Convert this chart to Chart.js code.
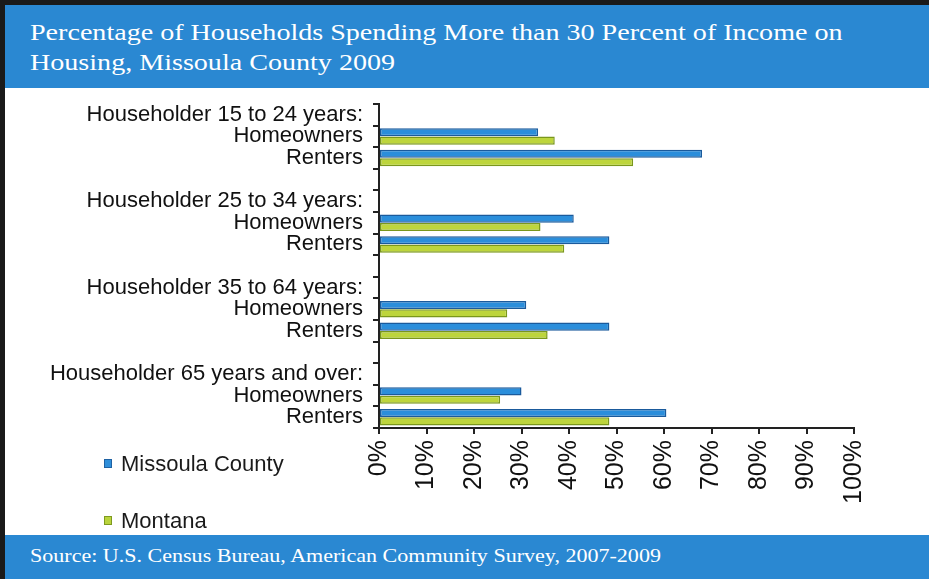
<!DOCTYPE html>
<html>
<head>
<meta charset="utf-8">
<script src="https://cdn.jsdelivr.net/npm/chart.js@4.4.1/dist/chart.umd.min.js"></script>
<style>
  html, body { margin:0; padding:0; width:929px; height:579px; overflow:hidden; background:#fff; }
  #frameTop { position:absolute; left:0; top:0; width:929px; height:5px; background:#1a1a1a; }
  #frameLeft { position:absolute; left:0; top:0; width:5px; height:579px; background:#1a1a1a; }
  #header { position:absolute; left:5px; top:5px; width:924px; height:83px; background:#2a88d2; }
  #title { position:absolute; left:30px; top:17px; color:#fff; font-family:"Liberation Serif", serif; font-size:24px; line-height:30px; white-space:nowrap; transform:scaleX(1.17); transform-origin:0 0; }
  #footer { position:absolute; left:5px; top:535px; width:924px; height:44px; background:#2a88d2; }
  #source { position:absolute; left:30px; top:545px; color:#fff; font-family:"Liberation Serif", serif; font-size:19px; line-height:22px; white-space:nowrap; transform:scaleX(1.16); transform-origin:0 0; }
  #wrap { position:absolute; left:0; top:0; width:929px; height:579px; }
  .leg { position:absolute; left:104px; font-family:"Liberation Sans", Arial, sans-serif; font-size:22px; color:#1a1a1a; white-space:nowrap; }
  .leg span.sw { display:inline-block; width:6px; height:7px; margin-right:9px; vertical-align:3px; }
</style>
</head>
<body>
<div id="frameTop"></div>
<div id="frameLeft"></div>
<div id="header"></div>
<div id="title">Percentage of Households Spending More than 30 Percent of Income on<br>Housing, Missoula County 2009</div>
<div id="footer"></div>
<div id="source">Source: U.S. Census Bureau, American Community Survey, 2007-2009</div>
<div id="wrap"><canvas id="c" width="929" height="579"></canvas></div>
<div class="leg" style="top:451px;"><span class="sw" style="background:#2f8fda;border:1px solid #1f62a3;"></span>Missoula County</div>
<div class="leg" style="top:508px;"><span class="sw" style="background:#b9d33c;border:1px solid #7e9a20;"></span>Montana</div>
<script>
const categories = [
  "Householder 15 to 24 years:", "Homeowners", "Renters", "",
  "Householder 25 to 34 years:", "Homeowners", "Renters", "",
  "Householder 35 to 64 years:", "Homeowners", "Renters", "",
  "Householder 65 years and over:", "Homeowners", "Renters"
];
const missoulaValues = [null, 33.5, 68, null, null, 41, 48.5, null, null, 31, 48.5, null, null, 30, 60.5];
const montanaValues  = [null, 37, 53.5, null, null, 34, 39, null, null, 27, 35.5, null, null, 25.5, 48.5];
const seriesNames = ["Missoula County", "Montana"];
const xTicks = [0, 10, 20, 30, 40, 50, 60, 70, 80, 90, 100];

Chart.defaults.font.family = '"Liberation Sans", Arial, sans-serif';

new Chart(document.getElementById('c'), {
  type: 'bar',
  data: {
    labels: categories,
    datasets: [
      { label: seriesNames[0], data: missoulaValues, backgroundColor: '#2b8edb', borderColor: '#1a5a9c', borderWidth: 1.5, borderSkipped: false, categoryPercentage: 0.78, barPercentage: 0.96 },
      { label: seriesNames[1], data: montanaValues, backgroundColor: '#bdd53c', borderColor: '#7a971c', borderWidth: 1.5, borderSkipped: false, categoryPercentage: 0.78, barPercentage: 0.96 }
    ]
  },
  options: {
    indexAxis: 'y',
    responsive: false,
    animation: false,
    layout: { padding: { left: 0, top: 104, right: 75, bottom: 0 } },
    plugins: { legend: { display: false }, tooltip: { enabled: false }, title: { display: false } },
    scales: {
      y: {
        afterFit: s => { s.width = 379; },
        border: { display: true, color: '#222', width: 2 },
        grid: { drawOnChartArea: false, tickLength: 6, color: '#222', lineWidth: 2, offset: true },
        ticks: { color: '#111', font: { size: 22 }, padding: 10, autoSkip: false }
      },
      x: {
        min: 0, max: 100,
        afterFit: s => { s.height = 151; },
        afterBuildTicks: s => { s.ticks = xTicks.map(v => ({ value: v })); },
        border: { display: true, color: '#222', width: 2 },
        grid: { drawOnChartArea: false, tickLength: 6, color: '#222', lineWidth: 2 },
        ticks: { color: '#111', font: { size: 25 }, padding: 6, maxRotation: 90, minRotation: 90, callback: v => v + '%' }
      }
    }
  }
});
</script>
</body>
</html>
